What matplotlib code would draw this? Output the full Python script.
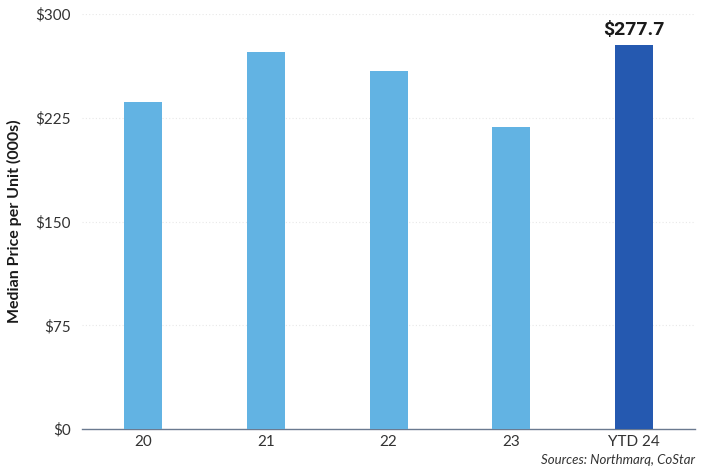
import matplotlib.pyplot as plt

categories = ['20', '21', '22', '23', 'YTD 24']
prices = [236.5, 272.5, 259.0, 218.5, 277.7]
yticks = [0, 75, 150, 225, 300]

LIGHT = '#62b3e3'
DARK = '#2559b0'

plt.rcParams['font.family'] = ['Lato', 'DejaVu Sans']

fig = plt.figure(figsize=(7.02, 4.71), dpi=100)
ax = fig.add_axes([0.117, 0.089, 0.873, 0.881])

colors = [LIGHT] * (len(categories) - 1) + [DARK]
x = range(len(categories))
ax.bar(x, prices, width=0.31, color=colors, zorder=3)

# label on the latest bar only
ax.text(len(categories) - 1, prices[-1] + 4, '$%.1f' % prices[-1],
        ha='center', va='bottom', fontsize=14, fontweight='bold',
        family=['Roboto', 'DejaVu Sans'], color='#1a1a1a')

ax.set_xlim(-0.5, len(categories) - 0.5)
ax.set_ylim(0, 300)
ax.set_xticks(list(x))
ax.set_xticklabels(categories, fontsize=11, color='#333333')
ax.set_yticks(yticks)
ax.set_yticklabels(['$%d' % v for v in yticks], fontsize=11, color='#333333')
ax.tick_params(length=0, pad=8)
ax.tick_params(axis='x', pad=4)

ax.grid(axis='y', color='#e8e8e8', linestyle=(0, (1, 2)), linewidth=0.8, zorder=0)
for s in ['top', 'right', 'left']:
    ax.spines[s].set_visible(False)
ax.spines['bottom'].set_color('#6b7a90')
ax.spines['bottom'].set_linewidth(1)

ax.set_ylabel('Median Price per Unit (000s)', fontsize=11.5, fontweight='bold',
              color='#1a1a1a', labelpad=10)

fig.text(0.99, 0.01, 'Sources: Northmarq, CoStar', ha='right', va='bottom',
         fontsize=9.5, style='italic', color='#333333')

fig.savefig('out.png', dpi=100)
